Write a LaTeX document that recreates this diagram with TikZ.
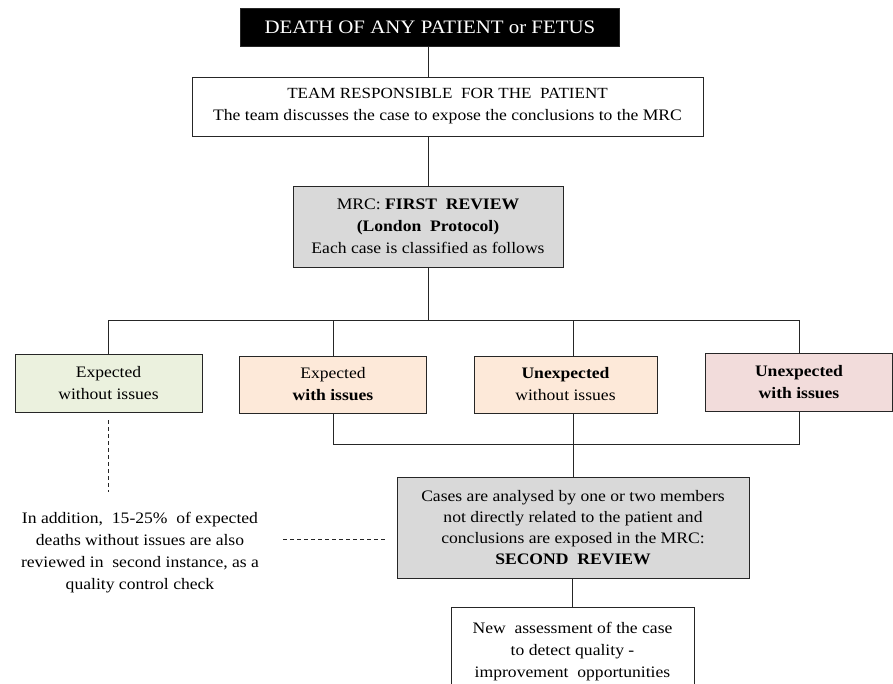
\documentclass[tikz,border=0pt]{standalone}
\usepackage{fontspec}
\setmainfont{Liberation Serif}[FakeStretch=1.1]
\usetikzlibrary{positioning}

\definecolor{revgray}{HTML}{D9D9D9}
\definecolor{expgreen}{HTML}{EBF1DE}
\definecolor{issuepeach}{HTML}{FDE9D9}
\definecolor{issuerose}{HTML}{F2DCDB}

\tikzset{
  box/.style={draw=black!85,line width=0.8pt,align=center,inner sep=1pt,
    font=\fontsize{16}{22}\selectfont},
  casebox/.style={box,minimum width=187pt,minimum height=58pt},
  link/.style={line width=0.8pt,black!85},
  dashy/.style={link,dash pattern=on 4pt off 3pt}
}

\begin{document}
\begin{tikzpicture}[x=1pt,y=-1pt]
  \clip (0,0) rectangle (893,683);
  \fill[white] (0,0) rectangle (893,683);

  % top of the chain
  \node[box,fill=black,text=white,minimum width=379pt,minimum height=38pt,
    font=\fontsize{19}{22}\selectfont] (death) at (430,27) {DEATH OF ANY PATIENT or FETUS};
  \node[box,minimum width=511pt,minimum height=59pt] (team) at (447.5,106.5)
    {{\fontsize{15.5}{19}\selectfont TEAM RESPONSIBLE\ \ FOR THE\ \ PATIENT}\\
     The team\ discusses the case to expose\ the conclusions to the MRC};
  \node[box,fill=revgray,minimum width=270pt,minimum height=81pt] (mrc) at (428,226.5)
    {MRC: \textbf{FIRST\ \ REVIEW}\\ \textbf{(London\ \ Protocol)}\\ Each case is classified as follows};

  % the four classes
  \node[casebox,fill=expgreen] (c1) at (108.5,383) {Expected\\ without issues};
  \node[casebox,fill=issuepeach,minimum height=57pt] (c2) at (333,384.5) {Expected\\ \textbf{with\ issues}};
  \node[casebox,fill=issuepeach,minimum width=183pt,minimum height=57pt] (c3) at (565.5,384.5)
    {\textbf{Unexpected}\\ without issues};
  \node[casebox,fill=issuerose] (c4) at (799,382) {\textbf{Unexpected}\\ \textbf{with\ issues}};

  % second review
  \node[box,fill=revgray,minimum width=352pt,minimum height=101pt,
    font=\fontsize{16}{21}\selectfont] (rev2) at (573,527.5)
    {Cases are analysed by one or two members\\ not directly related to the patient and\\
     conclusions are exposed in the MRC:\\ \textbf{SECOND\ \ REVIEW}};
  \node[box,minimum width=243pt,minimum height=88pt,anchor=north] (last) at (572.5,607)
    {New\ \ assessment of the case\\ to detect quality -\\ improvement\ \ opportunities};

  \node[align=center,font=\fontsize{16}{22}\selectfont] (note) at (140,553)
    {In addition,\ \ 15-25\%\ \ of expected\\ deaths without issues are also\\
     reviewed in\ \ second instance, as a\\ quality control check};

  % connectors
  \draw[link] (mrc.north |- death.south) -- (mrc.north |- team.north);
  \draw[link] (mrc.north |- team.south) -- (mrc.north);
  \draw[link] (mrc.south) -- ++(0,53) coordinate (bar);
  \draw[link] (c1.north) |- (bar) -| (c4.north);
  \draw[link] (c2.north) -- (c2.north |- bar);
  \draw[link] (rev2.north |- bar) -- (rev2.north |- c3.north);
  \draw[link] (c2.south) -- ++(0,31) coordinate (bar2) -| (c4.south);
  \draw[link] (rev2.north |- c3.south) -- (rev2.north);
  \draw[link] (rev2.south -| last.north) -- (last.north);

  \draw[dashy] ([yshift=-8pt]c1.south) -- ++(0,72);
  \coordinate (dl) at (283,539);
  \draw[dashy,shorten >=11pt] (dl) -- (dl -| rev2.west);
\end{tikzpicture}
\end{document}
